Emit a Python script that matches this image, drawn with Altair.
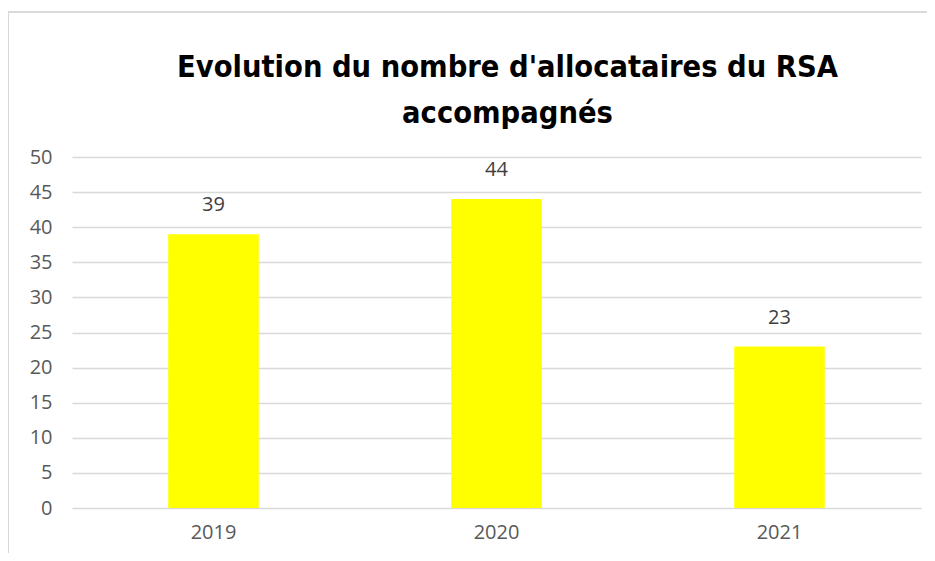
import altair as alt
import pandas as pd

years = ["2019", "2020", "2021"]
values = [39, 44, 23]
y_ticks = [0, 5, 10, 15, 20, 25, 30, 35, 40, 45, 50]
title_lines = ["Evolution du nombre d'allocataires du RSA", "accompagnés"]

df = pd.DataFrame({"annee": years, "valeur": values})

FONT = "Open Sans, Liberation Sans, sans-serif"
TITLE_FONT = "Liberation Sans Narrow, DejaVu Sans Condensed, Liberation Sans, sans-serif"

y_axis = alt.Axis(values=y_ticks, tickCount=11, ticks=False, domain=False,
                  labelPadding=20, grid=True, labelOverlap=False)
x_axis = alt.Axis(labelAngle=0, labelPadding=14, ticks=False, domain=False,
                  grid=False)
x_scale = alt.Scale(paddingInner=0.68, paddingOuter=0.34)
y_scale = alt.Scale(domain=[0, 50])

base = alt.Chart(df)
one = base.transform_filter(alt.datum.annee == "2019")

border_top = one.mark_rule(stroke="#d9d9d9", strokeWidth=2).encode(
    x=alt.value(-65), x2=alt.value(870), y=alt.value(-145)
)
border_left = one.mark_rule(stroke="#d9d9d9", strokeWidth=2).encode(
    x=alt.value(-64), y=alt.value(-146), y2=alt.value(400)
)

bars = base.mark_bar(color="#ffff00").encode(
    x=alt.X("annee:N", sort=years, title=None, scale=x_scale, axis=x_axis),
    y=alt.Y("valeur:Q", title=None, scale=y_scale, axis=y_axis),
)

labels = base.mark_text(dy=-19, fontSize=20, color="#404040", font=FONT,
                        baseline="bottom").encode(
    x=alt.X("annee:N", sort=years, title=None, scale=x_scale, axis=x_axis),
    y=alt.Y("valeur:Q", title=None, scale=y_scale, axis=y_axis),
    text=alt.Text("valeur:Q"),
)

chart = alt.layer(border_top, border_left, bars, labels).properties(
    width=849,
    height=351,
    padding={"left": 64, "top": 149, "right": 6, "bottom": 45},
    autosize=alt.AutoSizeParams(type="none"),
    title=alt.TitleParams(
        text=title_lines, font=TITLE_FONT, fontSize=30.5, fontWeight="bold",
        color="#000000", anchor="middle", frame="group", dx=11, dy=119,
        lineHeight=46, offset=0,
    ),
).configure_view(stroke=None).configure_axis(
    labelFont=FONT, labelFontSize=20, labelColor="#595959",
    gridColor="#d9d9d9", gridWidth=1.5,
)

chart.save("out.html", embed_options={"renderer": "svg", "actions": False})
